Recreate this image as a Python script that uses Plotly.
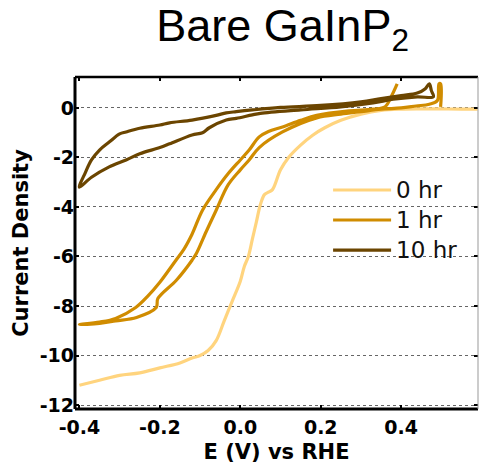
import plotly.graph_objects as go

# ---- data ----
E_0hr = [-0.40, -0.35, -0.30, -0.25, -0.20, -0.15, -0.12, -0.10, -0.08, -0.06, -0.04, -0.02,
         0.00, 0.01, 0.02, 0.03, 0.04, 0.05, 0.06, 0.07, 0.08, 0.10, 0.12, 0.15, 0.18, 0.21,
         0.25, 0.30, 0.35, 0.40, 0.45, 0.50, 0.55, 0.59]
J_0hr = [-11.2, -11.0, -10.8, -10.7, -10.5, -10.3, -10.1, -10.0, -9.8, -9.4, -8.6, -7.8,
         -7.0, -6.4, -6.0, -5.3, -4.6, -3.9, -3.5, -3.4, -3.3, -2.5, -2.0, -1.5, -1.1, -0.8,
         -0.5, -0.25, -0.1, -0.05, -0.04, -0.04, -0.05, -0.05]

E_1hr = [0.39, 0.375, 0.36, 0.33, 0.27, 0.19, 0.15, 0.105, 0.07, 0.047, 0.022, 0.0, -0.03,
         -0.06, -0.094, -0.12, -0.14, -0.16, -0.20, -0.23, -0.26, -0.31, -0.35, -0.40,
         -0.35, -0.31, -0.258, -0.209, -0.205, -0.159, -0.12, -0.109, -0.085, -0.06, -0.03,
         0.0, 0.022, 0.047, 0.105, 0.19, 0.25, 0.30, 0.35, 0.40, 0.437, 0.47, 0.49, 0.494,
         0.498, 0.498]
J_1hr = [0.97, 0.45, 0.05, -0.05, -0.12, -0.3, -0.5, -0.77, -0.95, -1.17, -1.7, -2.1, -2.65,
         -3.3, -4.13, -5.1, -5.7, -6.15, -7.04, -7.6, -8.06, -8.5, -8.65, -8.75,
         -8.7, -8.6, -8.46, -8.06, -7.7, -6.96, -6.15, -5.87, -5.0, -4.13, -3.1,
         -2.5, -2.1, -1.6, -0.97, -0.4, -0.25, -0.15, -0.05, 0.0, 0.08, 0.15, 0.3, 0.97,
         0.97, 0.04]

E_10hr = [-0.40, -0.385, -0.37, -0.35, -0.326, -0.30, -0.284, -0.25, -0.20, -0.176, -0.12,
          -0.06, -0.035, -0.01, 0.03, 0.10, 0.20, 0.30, 0.35, 0.40, 0.44, 0.46, 0.47, 0.475,
          0.48, 0.44, 0.38, 0.33, 0.25, 0.15, 0.05, 0.03, -0.01, -0.035, -0.077, -0.094,
          -0.12, -0.176, -0.20, -0.25, -0.284, -0.326, -0.37, -0.40]
J_10hr = [-3.2, -2.6, -2.1, -1.7, -1.38, -1.05, -0.97, -0.82, -0.69, -0.6, -0.49,
          -0.3, -0.2, -0.15, -0.08, 0.02, 0.1, 0.25, 0.38, 0.5, 0.6, 0.78, 0.97, 0.7,
          0.45, 0.45, 0.35, 0.2, 0.04, -0.08, -0.22, -0.28, -0.42, -0.49, -0.8, -1.0,
          -1.09, -1.45, -1.6, -1.85, -2.1, -2.38, -2.8, -3.2]

series_names = ["0 hr", "1 hr", "10 hr"]
series_colors = ["#FFD47E", "#D08C00", "#6B4500"]

x_ticks = [-0.4, -0.2, 0.0, 0.2, 0.4]
x_ticktext = ["-0.4", "-0.2", "0.0", "0.2", "0.4"]
y_ticks = [0, -2, -4, -6, -8, -10, -12]
y_ticktext = ["0", "-2", "-4", "-6", "-8", "-10", "-12"]

fig = go.Figure()
for E, J, name, col in zip([E_0hr, E_1hr, E_10hr], [J_0hr, J_1hr, J_10hr], series_names, series_colors):
    fig.add_trace(go.Scatter(x=E, y=J, mode="lines",
                             name='<span style="font-size:23px">%s</span>' % name,
                             line=dict(color=col, width=3.2), line_shape="spline"))

bold = lambda t: "<b>%s</b>" % t
tickfont = dict(family="DejaVu Sans", size=19, color="black")
fig.update_layout(
    width=479, height=469,
    margin=dict(l=75, r=1, t=77, b=60),
    paper_bgcolor="white", plot_bgcolor="white",
    title=dict(text="Bare GaInP<sub>2</sub>", x=0.59, xanchor="center",
               y=0.979, yanchor="top", yref="container",
               font=dict(family="Liberation Sans", size=45, color="black")),
    showlegend=True,
    legend=dict(x=0.628, y=0.72, xanchor="left", yanchor="top",
                bgcolor="rgba(0,0,0,0)", font=dict(family="DejaVu Sans", size=20.8, color="#111"),
                tracegroupgap=0, itemwidth=58),
    xaxis=dict(range=[-0.411, 0.591], tickvals=x_ticks, ticktext=[bold(t) for t in x_ticktext],
               showgrid=False, zeroline=False, showline=False, mirror="ticks",
               ticks="inside", ticklen=4, tickwidth=2, tickcolor="black",
               tickfont=tickfont, ticklabelstandoff=5,
               title=dict(text=bold("E (V) vs RHE"), standoff=7,
                          font=dict(family="DejaVu Sans", size=21, color="black"))),
    yaxis=dict(range=[-12.16, 1.25], tickvals=y_ticks, ticktext=[bold(t) for t in y_ticktext],
               showgrid=True, gridcolor="#666", griddash="dot", gridwidth=1,
               zeroline=False, showline=False, mirror="ticks",
               ticks="inside", ticklen=4, tickwidth=2, tickcolor="black",
               tickfont=tickfont,
               title=dict(text=bold("Current Density"), standoff=5,
                          font=dict(family="DejaVu Sans", size=21, color="black"))),
)
# frame
fig.add_shape(type="line", xref="paper", yref="paper", x0=0, x1=0, y0=0, y1=1,
              line=dict(color="black", width=3))
fig.add_shape(type="line", xref="paper", yref="paper", x0=0, x1=1, y0=0, y1=0,
              line=dict(color="black", width=3))
fig.add_shape(type="line", xref="paper", yref="paper", x0=0, x1=1, y0=1, y1=1,
              line=dict(color="black", width=2.5))
fig.add_shape(type="line", xref="paper", yref="paper", x0=1, x1=1, y0=0, y1=1,
              line=dict(color="#999", width=1))

fig.write_html("out.html")
